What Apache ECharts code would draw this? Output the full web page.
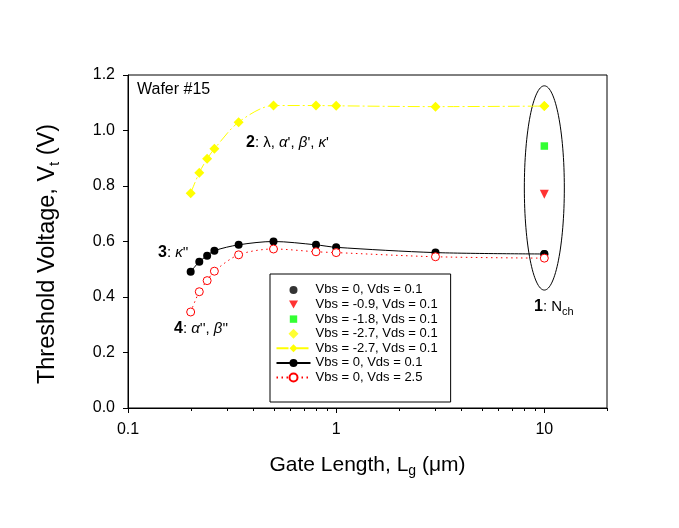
<!DOCTYPE html>
<html><head><meta charset="utf-8">
<script src="https://cdn.jsdelivr.net/npm/echarts@6/dist/echarts.min.js"></script>
<style>html,body{margin:0;padding:0;background:#fff}#c{width:679px;height:528px}</style>
</head><body><div id="c"></div>
<script>
// ---- data ----
const gateLength = [0.2, 0.22, 0.24, 0.26, 0.34, 0.5, 0.8, 1, 3, 10];
const vtVbs0Vds01 = [0.491, 0.527, 0.549, 0.567, 0.588, 0.600, 0.588, 0.579, 0.560, 0.555];
const vtVbs0Vds25 = [0.346, 0.419, 0.459, 0.493, 0.552, 0.573, 0.563, 0.560, 0.545, 0.540];
const vtVbsM27Vds01 = [0.774, 0.848, 0.898, 0.934, 1.030, 1.090, 1.090, 1.089, 1.086, 1.088];
const longLg = [10];
const vtLongVbs0 = [0.555];
const vtLongVbsM09 = [0.770];
const vtLongVbsM18 = [0.944];
const vtLongVbsM27 = [1.088];
const xMinorTicks = [0.2,0.3,0.4,0.5,0.6,0.7,0.8,0.9,2,3,4,5,6,7,8,9,20];
const ellipseNch = [[10, 0.793, 1.161]]; // center Lg, center Vt, top Vt
const legendNames = ['Vbs = 0, Vds = 0.1','Vbs = -0.9, Vds = 0.1','Vbs = -1.8, Vds = 0.1','Vbs = -2.7, Vds = 0.1','Vbs = -2.7, Vds = 0.1 ','Vbs = 0, Vds = 0.1 ','Vbs = 0, Vds = 2.5'];

const FONT = '"Liberation Sans", Arial, Helvetica, sans-serif';
const pair = (xs, ys) => xs.map((x, i) => [x, ys[i]]);

const chart = echarts.init(document.getElementById('c'), null, {renderer: 'canvas'});
const annRich = {
  b: {fontWeight: 'bold', fontSize: 16, fontFamily: FONT, color: '#000'},
  i: {fontStyle: 'italic', fontSize: 15, fontFamily: FONT, color: '#000'}
};
const option = {
  animation: false,
  backgroundColor: '#ffffff',
  textStyle: {fontFamily: FONT},
  grid: {left: 128, right: 72, top: 75, bottom: 120, show: true, borderColor: '#000', borderWidth: 1, backgroundColor: 'transparent'},
  xAxis: {
    type: 'log', logBase: 10, min: 0.1, max: 20,
    axisLine: {lineStyle: {color: '#000', width: 1}},
    axisTick: {inside: false, length: 5, lineStyle: {color: '#000'}},
    axisLabel: {color: '#000', fontSize: 16, fontFamily: FONT, margin: 14, showMaxLabel: false,
      formatter: v => (v === 0.1 || v === 1 || v === 10) ? String(v) : ''},
    splitLine: {show: false},
    name: '{a|Gate Length, L}{s|g}{a| (μm)}',
    nameLocation: 'middle', nameGap: 44,
    nameTextStyle: {rich: {
      a: {fontSize: 21, fontFamily: FONT, color: '#000', lineHeight: 26, verticalAlign: 'middle'},
      s: {fontSize: 14, fontFamily: FONT, color: '#000', lineHeight: 26, verticalAlign: 'bottom'}
    }}
  },
  yAxis: {
    type: 'value', min: 0, max: 1.2, interval: 0.2,
    axisLine: {lineStyle: {color: '#000', width: 1}},
    axisTick: {inside: false, length: 5, lineStyle: {color: '#000'}},
    axisLabel: {color: '#000', fontSize: 16, fontFamily: FONT, margin: 13, formatter: v => v.toFixed(1)},
    splitLine: {show: false},
    name: '{a|Threshold Voltage, V}{s|t}{a| (V)}',
    nameLocation: 'middle', nameGap: 66,
    nameTextStyle: {padding: [0, 25, 0, 0], rich: {
      a: {fontSize: 23.5, fontFamily: FONT, color: '#000', lineHeight: 28, verticalAlign: 'middle'},
      s: {fontSize: 15, fontFamily: FONT, color: '#000', lineHeight: 28, verticalAlign: 'bottom'}
    }}
  },
  legend: {
    orient: 'vertical', left: 270, top: 274,
    data: [
      {name: legendNames[0], icon: 'path://M0,0M10,10M5,1A4,4 0 1 1 5,9A4,4 0 1 1 5,1Z'},
      {name: legendNames[1], icon: 'path://M0,0M10,10M0.5,1L9.5,1L5,9Z'},
      {name: legendNames[2], icon: 'path://M0,0M10,10M1.3,1.3L8.7,1.3L8.7,8.7L1.3,8.7Z'},
      {name: legendNames[3], icon: 'path://M5,0L10,5L5,10L0,5Z'},
      {name: legendNames[4]},
      {name: legendNames[5]},
      {name: legendNames[6]}
    ],
    symbolKeepAspect: true,
    formatter: n => n.trim(),
    itemWidth: 34, itemHeight: 10, itemGap: 1.6,
    padding: [9.4, 13, 18, 5.5],
    borderColor: '#000', borderWidth: 1, backgroundColor: '#fff',
    textStyle: {fontSize: 13, fontFamily: FONT, color: '#000'},
    selectedMode: false
  },
  series: [
    {type: 'line', name: legendNames[4], data: pair(gateLength, vtVbsM27Vds01), smooth: 0.3,
     symbol: 'diamond', symbolSize: 10, itemStyle: {color: '#ffff00'},
     lineStyle: {color: '#ffff00', width: 1, type: [12, 3, 2, 3]}, z: 3},
    {type: 'line', name: legendNames[5], data: pair(gateLength, vtVbs0Vds01), smooth: 0.3,
     symbol: 'circle', symbolSize: 8, itemStyle: {color: '#000'},
     lineStyle: {color: '#000', width: 1}, z: 4},
    {type: 'line', name: legendNames[6], data: pair(gateLength, vtVbs0Vds25), smooth: 0.3,
     symbol: 'circle', symbolSize: 8, itemStyle: {color: '#fff', borderColor: '#ff0000', borderWidth: 1},
     lineStyle: {color: '#ff0000', width: 1, type: [1.5, 3.5]}, z: 6},
    {type: 'scatter', name: legendNames[0], data: pair(longLg, vtLongVbs0), symbol: 'circle', symbolSize: 8, itemStyle: {color: '#000'}, z: 5},
    {type: 'scatter', name: legendNames[1], data: pair(longLg, vtLongVbsM09), symbol: 'triangle', symbolRotate: 180, symbolSize: 9, itemStyle: {color: '#ff0000'}, z: 5},
    {type: 'scatter', name: legendNames[2], data: pair(longLg, vtLongVbsM18), symbol: 'rect', symbolSize: 7.5, itemStyle: {color: '#00ff00'}, z: 5},
    {type: 'scatter', name: legendNames[3], data: pair(longLg, vtLongVbsM27), symbol: 'diamond', symbolSize: 10, itemStyle: {color: '#ffff00'}, z: 5},
    {type: 'custom', name: 'ellipse', data: ellipseNch, silent: true, z: 2,
     renderItem: (params, api) => {
       const c = api.coord([api.value(0), api.value(1)]);
       const t = api.coord([api.value(0), api.value(2)]);
       return {type: 'ellipse', shape: {cx: c[0], cy: c[1], rx: 20, ry: c[1] - t[1]},
               style: {fill: null, stroke: '#000', lineWidth: 1}};
     }},
    {type: 'custom', name: 'minorTicks', data: xMinorTicks.map(v => [v, 0]), silent: true, clip: false, z: 2,
     renderItem: (params, api) => {
       const p = api.coord([api.value(0), api.value(1)]);
       const x = Math.round(p[0]) + 0.5;
       return {type: 'line', shape: {x1: x, y1: p[1], x2: x, y2: p[1] + 3}, style: {stroke: '#000', lineWidth: 1}};
     }}
  ],
  graphic: [
    {type: 'text', left: 137, top: 82, style: {text: 'Wafer #15', font: '16px ' + FONT, fill: '#000'}},
    {type: 'text', left: 246, top: 135, style: {text: '{b|2}: λ, {i|α}\', {i|β}\', {i|κ}\'', fontSize: 15, fontFamily: FONT, fill: '#000', rich: annRich}},
    {type: 'text', left: 158, top: 245, style: {text: '{b|3}: {i|κ}\'\'', fontSize: 15, fontFamily: FONT, fill: '#000', rich: annRich}},
    {type: 'text', left: 174, top: 321, style: {text: '{b|4}: {i|α}\'\', {i|β}\'\'', fontSize: 15, fontFamily: FONT, fill: '#000', rich: annRich}},
    {type: 'text', left: 534, top: 299, style: {text: '{b|1}{n|: N}{s|ch}', fontSize: 15, fontFamily: FONT, fill: '#000',
      rich: {b: {fontWeight: 'bold', fontSize: 16, fontFamily: FONT, lineHeight: 20, verticalAlign: 'middle'},
             n: {fontSize: 15, fontFamily: FONT, lineHeight: 20, verticalAlign: 'middle'},
             s: {fontSize: 11, fontFamily: FONT, lineHeight: 20, verticalAlign: 'bottom'}}}}
  ]
};
chart.setOption(option);
</script></body></html>
